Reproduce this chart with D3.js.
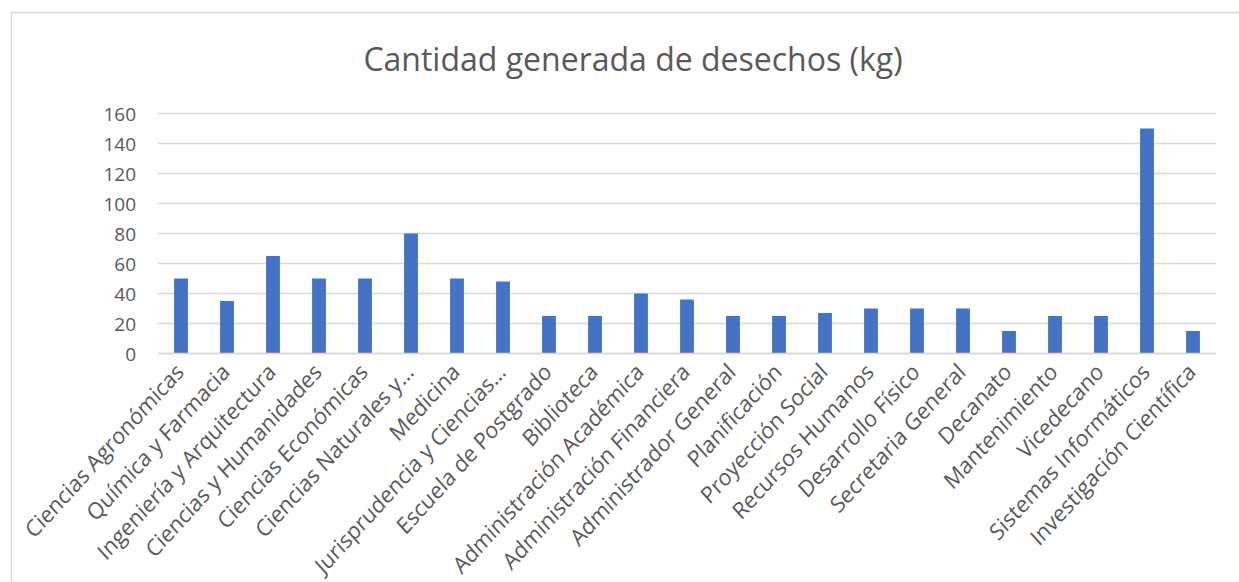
<!DOCTYPE html>
<html>
<head>
<meta charset="utf-8">
<script src="https://cdn.jsdelivr.net/npm/d3@7"></script>
<style>
  body { margin: 0; background: #fff; }
  text { font-family: "Open Sans", "Noto Sans", sans-serif; fill: #595959; }
</style>
</head>
<body>
<div id="chart"></div>
<script>
// categorías (eje x) y cantidades en kg
var categorias = ["Ciencias Agronómicas", "Química y Farmacia", "Ingeniería y Arquitectura",
  "Ciencias y Humanidades", "Ciencias Económicas", "Ciencias Naturales y…", "Medicina",
  "Jurisprudencia y Ciencias…", "Escuela de Postgrado", "Biblioteca", "Administración Académica",
  "Administración Financiera", "Administrador General", "Planificación", "Proyección Social",
  "Recursos Humanos", "Desarrollo Físico", "Secretaria General", "Decanato", "Mantenimiento",
  "Vicedecano", "Sistemas Informáticos", "Investigación Científica"];
var cantidades = [50, 35, 65, 50, 50, 80, 50, 48, 25, 25, 40, 36, 25, 25, 27, 30, 30, 30, 15, 25, 25, 150, 15];
var ticksY = [0, 20, 40, 60, 80, 100, 120, 140, 160];
var titulo = "Cantidad generada de desechos (kg)";

var width = 1239, height = 582;
var margin = {left: 158, right: 1239 - 1216, top: 113.5, bottom: 582 - 353.5};

var svg = d3.select("#chart").append("svg")
    .attr("width", width)
    .attr("height", height);

// marco del gráfico
svg.append("path")
    .attr("d", "M11.5,582V12.5H1239")
    .attr("fill", "none")
    .attr("stroke", "#d9d9d9")
    .attr("stroke-width", 1.5);

var x = d3.scaleBand()
    .domain(categorias)
    .range([margin.left, width - margin.right])
    .paddingInner(0.7)
    .paddingOuter(0.35);

var y = d3.scaleLinear()
    .domain([0, 160])
    .range([height - margin.bottom, margin.top]);

// líneas de la cuadrícula
svg.append("g")
  .selectAll("line")
  .data(ticksY)
  .enter().append("line")
    .attr("x1", margin.left)
    .attr("x2", width - margin.right)
    .attr("y1", d => y(d))
    .attr("y2", d => y(d))
    .attr("stroke", "#d9d9d9")
    .attr("stroke-width", 1.5);

// eje y
var ejeY = svg.append("g")
    .attr("transform", "translate(" + (margin.left - 22) + ",0)")
    .call(d3.axisLeft(y).tickValues(ticksY).tickSize(0).tickPadding(0));
ejeY.select(".domain").remove();
ejeY.selectAll("text")
    .style("font-size", "19px")
    .attr("dy", "0.35em");

// barras
svg.append("g")
  .selectAll("rect")
  .data(cantidades)
  .enter().append("rect")
    .attr("x", (d, i) => x(categorias[i]))
    .attr("y", d => y(d))
    .attr("width", x.bandwidth())
    .attr("height", d => y(0) - y(d))
    .attr("fill", "#4472c4");

// eje x con etiquetas giradas (la imagen original está un poco estirada en vertical)
var ejeX = svg.append("g")
    .attr("transform", "translate(0," + y(0) + ")")
    .call(d3.axisBottom(x).tickSize(0).tickPadding(0));
ejeX.select(".domain")
    .attr("d", "M" + margin.left + ",0H" + (width - margin.right))
    .attr("stroke", "#d9d9d9")
    .attr("stroke-width", 1.5);
ejeX.selectAll("text")
    .style("font-size", "21px")
    .attr("text-anchor", "end")
    .attr("dy", null)
    .attr("transform", "translate(4,20) scale(1,1.1) rotate(-45)");

// título
svg.append("text")
    .attr("x", 633)
    .attr("y", 71)
    .attr("text-anchor", "middle")
    .style("font-size", "32px")
    .text(titulo);
</script>
</body>
</html>
